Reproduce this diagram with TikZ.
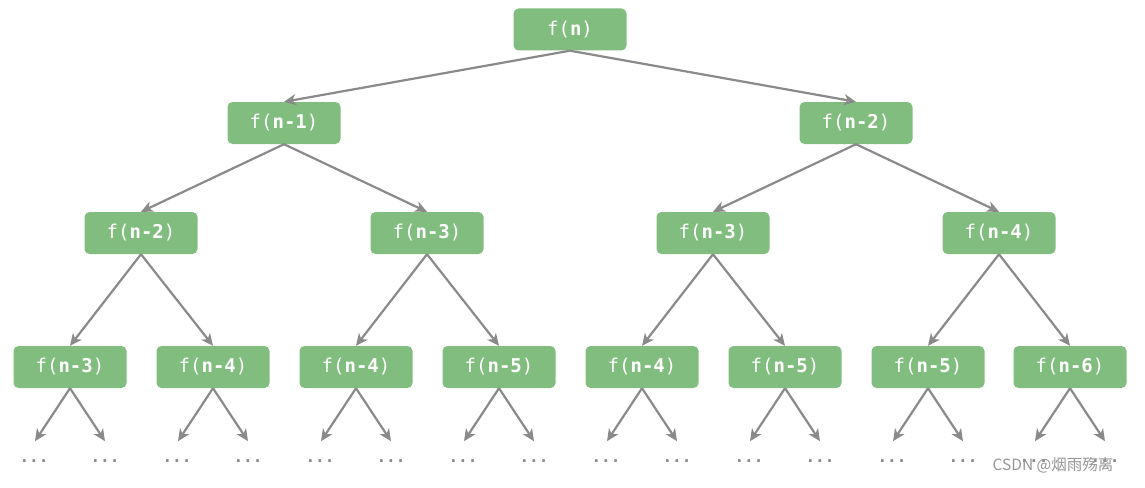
\documentclass[tikz,border=0pt]{standalone}
\usepackage{fontspec}
\setmonofont{DejaVu Sans Mono}
\newfontfamily\cjk{Noto Sans CJK SC}
\usetikzlibrary{arrows.meta}
\definecolor{boxgreen}{RGB}{130,189,128}
\definecolor{edgegray}{RGB}{138,138,138}
\definecolor{wmgray}{RGB}{150,150,150}
\newcommand{\fn}[1]{f(\textbf{#1})}
\begin{document}
\begin{tikzpicture}[x=1pt,y=-1pt,
  fnode/.style={fill=boxgreen, rounded corners=5pt, minimum width=113pt, minimum height=42pt,
    text=white, font=\ttfamily\fontsize{19}{20}\selectfont, inner sep=0pt},
  edge/.style={draw=edgegray, line width=2.2pt, -{Stealth[length=12pt,width=11pt,inset=3.5pt]}},
  dotstyle/.style={text=edgegray, font=\ttfamily\bfseries\fontsize{16}{16}\selectfont, inner sep=0pt}]
\useasboundingbox (0,0) rectangle (1145,487);
% nodes
\node[fnode] (n0) at (570,29.5) {\fn{n}};
\node[fnode] (n1a) at (284,123) {\fn{n-1}};
\node[fnode] (n1b) at (856,123) {\fn{n-2}};
\node[fnode] (n2a) at (141,233) {\fn{n-2}};
\node[fnode] (n2b) at (427,233) {\fn{n-3}};
\node[fnode] (n2c) at (713,233) {\fn{n-3}};
\node[fnode] (n2d) at (999,233) {\fn{n-4}};
\node[fnode] (n3a) at (70,367) {\fn{n-3}};
\node[fnode] (n3b) at (213,367) {\fn{n-4}};
\node[fnode] (n3c) at (356,367) {\fn{n-4}};
\node[fnode] (n3d) at (499,367) {\fn{n-5}};
\node[fnode] (n3e) at (642,367) {\fn{n-4}};
\node[fnode] (n3f) at (785,367) {\fn{n-5}};
\node[fnode] (n3g) at (928,367) {\fn{n-5}};
\node[fnode] (n3h) at (1070,367) {\fn{n-6}};
% edges
\draw[edge] (n0.south) -- (n1a.north);
\draw[edge] (n0.south) -- (n1b.north);
\draw[edge] (n1a.south) -- (n2a.north);
\draw[edge] (n1a.south) -- (n2b.north);
\draw[edge] (n1b.south) -- (n2c.north);
\draw[edge] (n1b.south) -- (n2d.north);
\draw[edge] (n2a.south) -- (n3a.north);
\draw[edge] (n2a.south) -- (n3b.north);
\draw[edge] (n2b.south) -- (n3c.north);
\draw[edge] (n2b.south) -- (n3d.north);
\draw[edge] (n2c.south) -- (n3e.north);
\draw[edge] (n2c.south) -- (n3f.north);
\draw[edge] (n2d.south) -- (n3g.north);
\draw[edge] (n2d.south) -- (n3h.north);
% leaf arrows and dots
\foreach \n in {n3a,n3b,n3c,n3d,n3e,n3f,n3g,n3h}{
  \path (\n.south) ++(-35,53) coordinate (\n L) ++(-1,20) node[dotstyle] (\n DL) {...};
  \path (\n.south) ++(35,53) coordinate (\n R) ++(0,20) node[dotstyle] (\n DR) {...};
  \draw[edge] (\n.south) -- (\n L);
  \draw[edge] (\n.south) -- (\n R);
}
\node[text=wmgray, font=\cjk\fontsize{15.5}{15.5}\selectfont, inner sep=0pt] (wm) at (1053,465) {CSDN @烟雨殇离};
\end{tikzpicture}
\end{document}
